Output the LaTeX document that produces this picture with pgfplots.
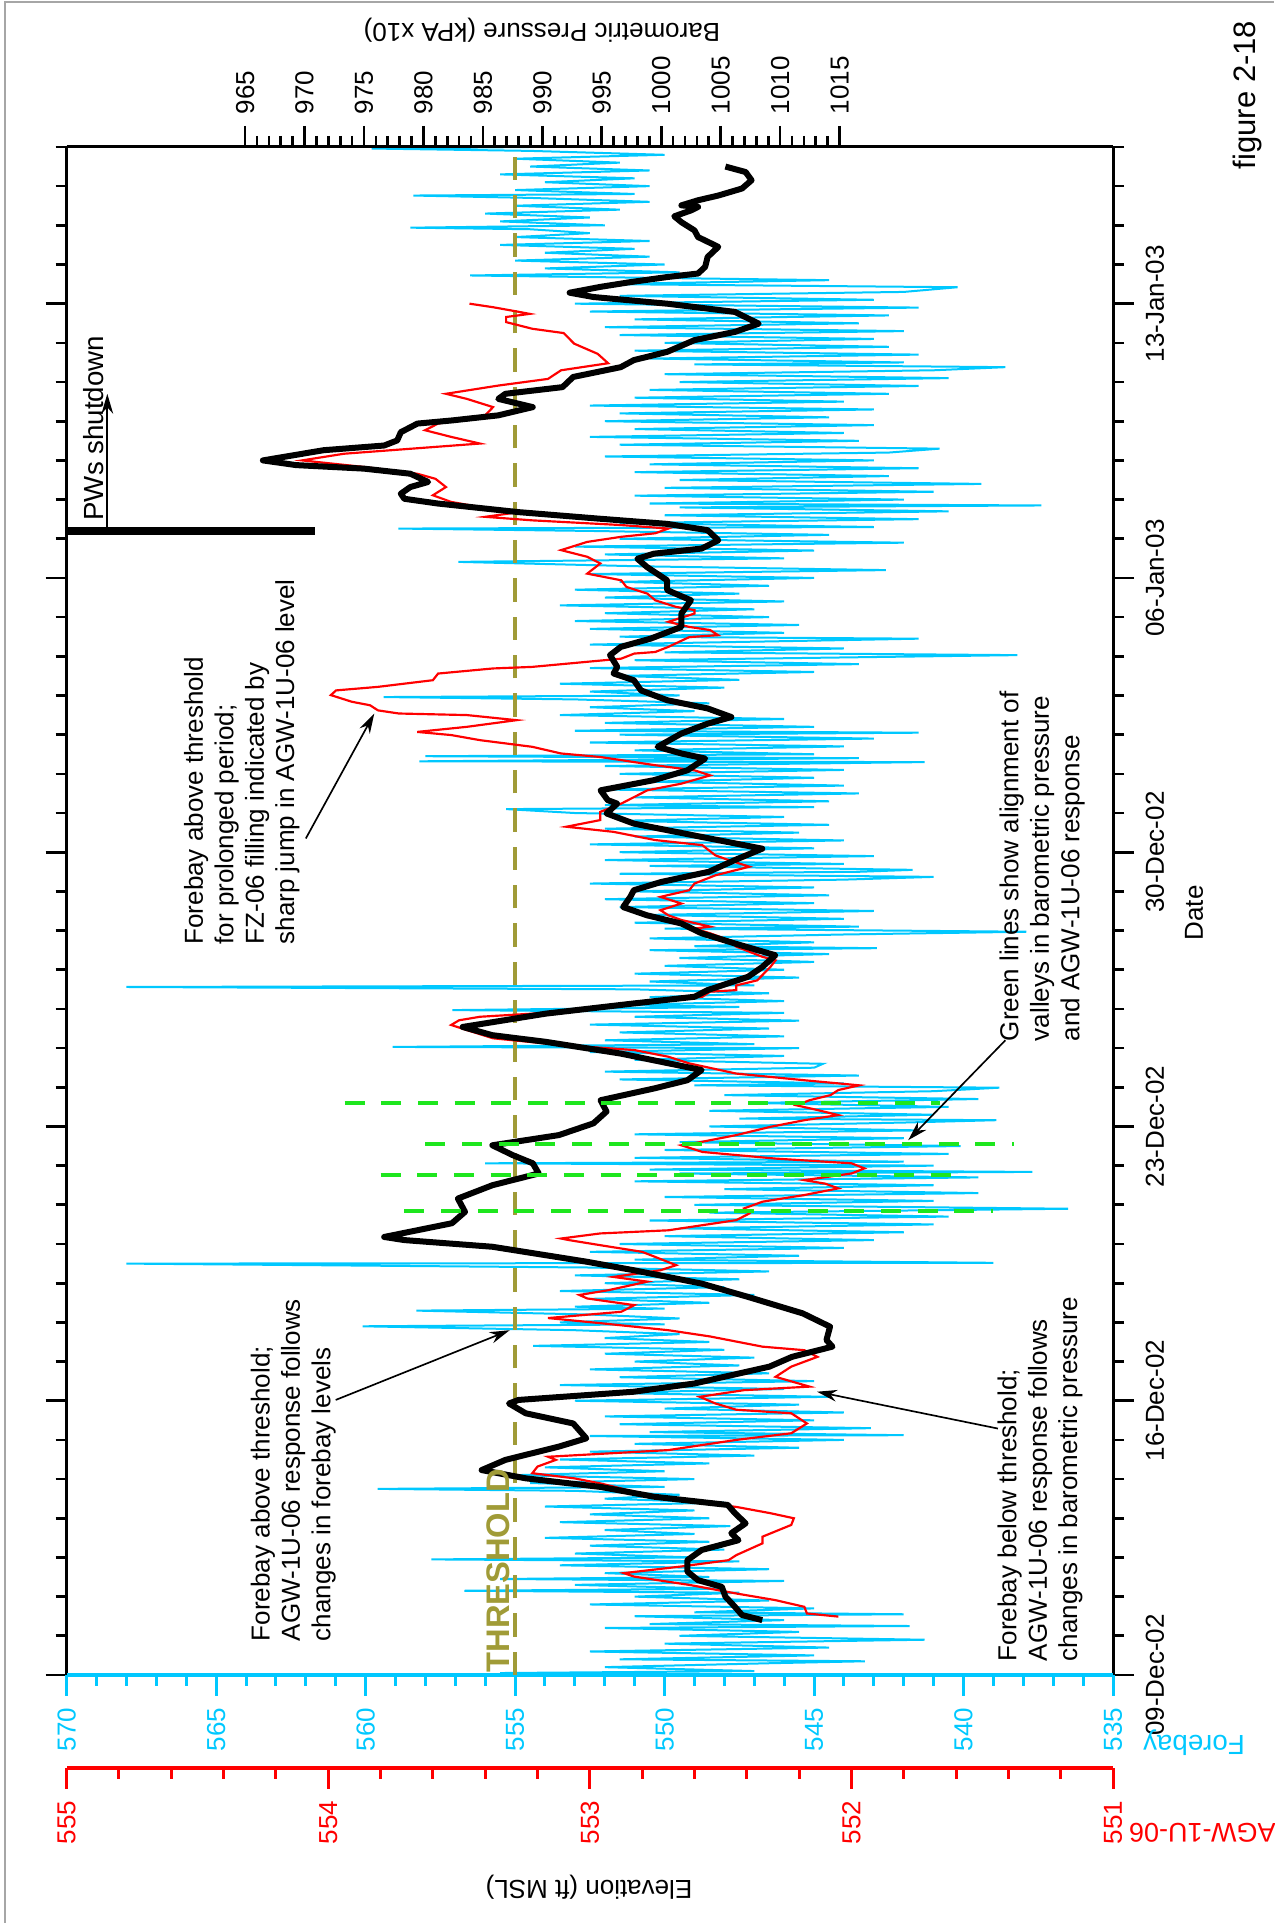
\documentclass[border=0pt]{standalone}
\usepackage{graphicx}
\usepackage{pgfplots}
\usepackage{pgfplotstable}
\pgfplotsset{compat=1.18}
\usepackage{fontspec}
\setmainfont{Liberation Sans}
\usetikzlibrary{arrows.meta}
\definecolor{fcyan}{RGB}{0,200,255}
\definecolor{fred}{RGB}{255,0,0}
\definecolor{folive}{RGB}{160,155,55}
\definecolor{fgreen}{RGB}{30,230,30}
\newcommand\annot{\fontsize{7.8}{9.12}\selectfont}

\pgfplotstableread{
d f
0.0 550.5
0.05 555.5
0.1 547.0
0.2 552.0
0.3 546.5
0.35 543.3
0.4 551.5
0.5 545.0
0.6 552.5
0.7 544.5
0.8 550.0
0.9 541.3
1.0 549.5
1.1 545.5
1.2 552.0
1.25 541.8
1.3 550.5
1.4 546.0
1.5 551.0
1.55 542.0
1.6 549.0
1.7 545.0
1.8 552.5
1.9 546.5
2.0 551.0
2.1 547.5
2.15 556.7
2.2 548.0
2.3 553.0
2.4 546.0
2.45 555.5
2.5 548.5
2.6 552.0
2.7 546.5
2.8 553.5
2.9 547.5
2.95 557.8
3.0 549.0
3.1 553.0
3.2 548.0
3.3 552.5
3.4 548.5
3.5 554.0
3.6 549.0
3.7 552.0
3.8 547.8
3.9 553.5
4.0 548.5
4.1 552.5
4.2 549.0
4.3 554.0
4.4 548.0
4.5 552.0
4.6 549.5
4.7 553.0
4.75 559.6
4.8 550.0
4.9 554.5
5.0 549.0
5.1 555.0
5.2 550.0
5.3 554.0
5.4 548.5
5.5 553.5
5.6 547.0
5.7 552.5
5.8 545.5
5.9 551.0
6.0 544.0
6.1 552.5
6.12 542.0
6.2 550.5
6.3 543.1
6.4 551.5
6.5 545.0
6.6 552.0
6.7 544.0
6.8 550.0
6.9 545.5
7.0 553.0
7.1 544.5
7.2 552.0
7.3 546.0
7.4 553.5
7.5 545.0
7.6 551.5
7.7 546.5
7.8 552.5
7.9 547.5
8.0 551.0
8.1 547.0
8.2 552.0
8.3 548.0
8.4 554.4
8.5 548.5
8.6 552.0
8.7 549.5
8.8 553.0
8.9 560.1
8.95 550.0
9.0 553.5
9.1 549.5
9.2 552.5
9.3 558.3
9.35 550.0
9.4 553.0
9.5 548.5
9.6 552.5
9.7 547.0
9.8 553.5
9.9 548.0
10.0 552.0
10.1 547.5
10.2 553.0
10.3 546.5
10.4 552.5
10.5 568.0
10.52 539.0
10.6 551.0
10.7 545.5
10.8 552.5
10.9 544.0
11.0 551.5
11.1 543.0
11.2 550.0
11.3 542.0
11.4 549.5
11.5 541.0
11.6 550.5
11.7 540.5
11.8 548.5
11.9 536.5
12.0 549.0
12.1 541.0
12.2 550.0
12.3 539.5
12.4 548.0
12.5 541.0
12.6 551.0
12.7 539.5
12.8 549.5
12.84 537.7
12.9 550.5
13.0 541.0
13.06 556.0
13.1 542.0
13.2 551.0
13.3 540.5
13.4 550.0
13.5 540.1
13.6 549.5
13.7 542.0
13.8 551.0
13.9 541.5
14.0 548.5
14.1 542.0
14.16 538.9
14.2 547.5
14.3 541.0
14.4 548.5
14.5 540.5
14.6 547.0
14.7 539.5
14.8 548.0
14.9 541.0
14.99 538.8
15.05 549.0
15.1 544.0
15.2 551.5
15.3 543.5
15.4 552.0
15.5 545.0
15.6 544.7
15.7 551.0
15.8 546.0
15.9 552.5
16.0 545.5
16.03 559.1
16.1 547.0
16.2 552.0
16.3 546.0
16.4 551.5
16.5 546.5
16.6 552.5
16.7 545.5
16.8 551.0
16.9 546.0
16.97 557.1
17.05 547.5
17.1 551.5
17.2 546.0
17.3 550.5
17.4 546.5
17.5 551.0
17.56 568.0
17.6 547.0
17.7 550.5
17.8 545.5
17.9 551.0
18.0 546.0
18.1 550.0
18.2 545.0
18.3 549.5
18.4 544.5
18.5 550.5
18.55 542.9
18.6 549.0
18.7 545.0
18.8 550.5
18.9 544.0
18.97 537.9
19.05 550.0
19.1 543.5
19.2 551.0
19.3 544.0
19.4 550.5
19.5 543.0
19.6 551.5
19.7 545.0
19.8 552.0
19.9 544.5
20.0 551.0
20.1 545.0
20.2 552.5
20.3 544.0
20.37 541.0
20.45 551.5
20.5 543.5
20.55 541.7
20.65 550.5
20.7 544.0
20.8 552.0
20.9 543.0
21.0 551.5
21.1 545.0
21.2 552.5
21.3 544.0
21.4 551.0
21.5 545.5
21.6 552.0
21.7 544.5
21.8 551.5
21.9 546.0
22.0 553.0
22.1 555.3
22.15 545.0
22.2 552.0
22.3 544.5
22.4 551.0
22.5 543.5
22.6 552.0
22.7 544.0
22.8 550.5
22.9 545.0
23.0 551.5
23.1 544.0
23.2 552.0
23.3 541.3
23.32 558.2
23.4 543.5
23.45 558.0
23.5 545.0
23.6 551.0
23.7 544.0
23.8 552.5
23.9 543.0
24.0 551.5
24.05 541.5
24.1 553.0
24.2 545.0
24.3 552.0
24.4 546.0
24.5 553.5
24.6 549.0
24.7 552.5
24.8 548.5
24.9 553.0
24.96 559.4
25.0 549.5
25.1 552.5
25.2 548.0
25.3 553.5
25.4 547.5
25.5 551.5
25.6 545.0
25.7 552.5
25.8 543.5
25.9 551.0
26.03 538.2
26.1 550.0
26.2 544.0
26.3 552.5
26.4 545.0
26.45 541.5
26.5 551.5
26.6 546.0
26.7 552.5
26.8 545.5
26.9 553.0
27.0 546.5
27.1 552.0
27.2 547.0
27.3 553.5
27.4 546.0
27.5 552.0
27.6 547.5
27.7 553.0
27.8 546.5
27.9 551.5
28.0 545.0
28.1 552.5
28.2 542.6
28.3 551.0
28.41 556.9
28.5 546.0
28.6 552.0
28.7 545.0
28.8 553.0
28.9 542.0
29.0 551.5
29.1 544.5
29.2 552.5
29.26 558.9
29.3 543.0
29.4 551.5
29.5 541.5
29.6 550.0
29.7 540.5
29.8 549.5
29.85 537.4
29.9 550.5
30.0 542.0
30.1 551.0
30.2 541.0
30.3 550.0
30.4 539.4
30.5 549.5
30.6 542.5
30.7 551.0
30.8 541.5
30.9 550.5
31.0 543.0
31.1 552.0
31.2 542.5
31.3 540.8
31.4 551.5
31.5 543.5
31.6 552.5
31.7 544.0
31.8 551.0
31.9 543.0
32.0 552.0
32.1 544.5
32.2 551.5
32.3 543.0
32.4 552.5
32.5 544.0
32.6 551.0
32.7 542.5
32.8 550.5
32.9 541.5
33.0 549.5
33.1 540.5
33.2 550.0
33.3 541.0
33.38 538.6
33.45 549.0
33.5 542.0
33.6 550.5
33.7 541.5
33.8 551.0
33.9 542.5
34.0 550.0
34.1 543.0
34.2 551.5
34.3 542.0
34.4 552.0
34.5 543.5
34.6 551.0
34.7 542.5
34.8 552.5
34.9 541.5
35.0 553.0
35.1 543.0
35.2 551.5
35.3 542.0
35.42 540.2
35.5 552.0
35.6 544.5
35.72 556.5
35.8 549.5
35.9 554.0
36.0 550.0
36.1 555.0
36.2 550.5
36.3 554.0
36.4 551.0
36.5 555.5
36.6 550.5
36.7 555.0
36.8 552.5
36.9 554.5
36.94 558.5
37.0 552.0
37.1 555.5
37.2 552.5
37.3 556.0
37.4 551.5
37.5 555.0
37.6 550.5
37.7 554.5
37.76 558.4
37.8 551.0
37.9 555.0
38.0 550.5
38.1 554.0
38.2 551.0
38.3 555.5
38.4 550.5
38.5 554.5
38.6 551.5
38.7 555.0
38.8 550.0
38.9 554.5
38.96 559.8
39.0 554.4
}\forebay

\pgfplotstableread{
d a
1.49 552.05
1.57 552.17
1.74 552.18
1.91 552.29
2.08 552.44
2.30 552.62
2.51 552.83
2.60 552.87
2.77 552.65
2.93 552.47
3.06 552.44
3.36 552.34
3.53 552.34
3.83 552.23
4.00 552.22
4.13 552.31
4.29 552.44
4.55 552.78
4.68 552.83
4.89 552.96
5.02 553.06
5.15 553.22
5.32 553.20
5.49 553.13
5.57 553.16
5.74 552.70
6.00 552.44
6.17 552.23
6.42 552.17
6.68 552.23
6.77 552.44
6.93 552.52
7.10 552.58
7.27 552.41
7.36 552.16
7.61 552.29
7.87 552.23
8.12 552.13
8.29 552.18
8.38 552.34
8.64 552.54
8.80 552.70
8.98 552.96
9.11 553.16
9.27 552.88
9.44 552.83
9.61 553.01
9.70 553.04
9.82 552.93
10.04 552.78
10.16 552.91
10.33 552.73
10.46 552.67
10.67 552.75
10.80 552.80
10.97 552.96
11.10 553.08
11.14 553.11
11.27 552.96
11.35 552.70
11.61 552.44
11.78 552.39
11.91 552.41
12.08 552.34
12.25 552.18
12.42 552.05
12.54 552.10
12.63 552.18
12.80 552.00
12.93 551.95
13.06 552.00
13.18 552.29
13.35 552.57
13.52 552.65
13.61 552.57
13.78 552.44
13.99 552.31
14.16 552.18
14.29 552.05
14.42 552.13
14.54 552.21
14.67 552.16
14.80 552.08
14.93 552.05
15.05 551.97
15.18 552.18
15.35 552.44
15.61 552.62
15.78 552.70
15.95 552.83
16.08 553.11
16.25 553.37
16.46 553.47
16.59 553.53
16.71 553.50
16.80 553.42
16.88 553.22
17.01 552.96
17.18 552.78
17.31 552.57
17.44 552.54
17.48 552.44
17.60 552.44
17.73 552.36
18.07 552.31
18.24 552.29
18.33 552.34
18.59 552.44
18.76 552.47
18.93 552.54
19.05 552.60
19.10 552.54
19.27 552.65
19.39 552.70
19.52 552.73
19.69 552.65
19.86 552.73
20.03 552.62
20.20 552.60
20.41 552.52
20.63 552.39
20.80 552.47
20.92 552.52
21.18 552.57
21.31 552.75
21.52 552.91
21.65 553.09
21.82 552.96
22.03 552.96
22.24 552.88
22.58 552.78
22.75 552.65
22.96 552.54
23.09 552.60
23.22 552.75
23.43 552.96
23.52 553.11
23.69 553.22
23.86 553.42
23.99 553.53
24.07 553.66
24.20 553.47
24.37 553.28
24.50 553.47
24.54 553.73
24.62 553.81
24.75 553.84
24.84 553.91
25.01 553.99
25.13 553.97
25.22 553.81
25.39 553.60
25.56 553.58
25.69 553.37
25.73 553.22
25.94 552.88
26.07 552.83
26.11 552.75
26.24 552.70
26.49 552.62
26.54 552.51
26.67 552.54
26.75 552.62
26.88 552.70
27.09 552.60
27.18 552.60
27.26 552.67
27.43 552.75
27.60 552.78
27.77 552.86
27.94 552.88
28.11 553.01
28.37 552.96
28.54 553.01
28.71 553.11
28.92 553.01
29.05 552.88
29.14 552.75
29.26 552.70
29.35 552.88
29.47 553.22
29.56 553.40
29.68 553.27
29.81 553.42
29.94 553.53
30.11 553.60
30.32 553.55
30.53 553.59
30.66 553.66
30.83 553.86
31.00 554.10
31.17 553.94
31.30 553.68
31.43 553.42
31.60 553.53
31.77 553.63
31.94 553.58
32.15 553.40
32.36 553.37
32.57 553.47
32.70 553.55
32.91 553.35
33.08 553.16
33.30 553.11
33.48 552.93
33.72 552.97
33.98 553.06
34.25 553.10
34.36 553.22
34.53 553.32
34.66 553.32
34.74 553.23
34.79 553.27
34.91 553.37
35.00 553.46
}\agw

\pgfplotstableread{
d p
1.40 1008.5
1.53 1006.8
1.74 1006.2
2.00 1005.4
2.25 1005.1
2.42 1003.1
2.64 1002.2
2.93 1002.2
3.19 1003.4
3.44 1006.5
3.62 1005.9
3.87 1007.1
4.13 1006.2
4.34 1005.6
4.55 999.4
4.80 994.9
5.02 988.6
5.23 984.9
5.49 986.9
5.83 991.4
6.04 993.7
6.42 992.6
6.68 988.6
6.93 987.2
7.02 988.0
7.23 997.7
7.44 1002.8
7.87 1009.1
8.12 1011.0
8.38 1014.4
8.55 1013.9
8.89 1014.2
9.23 1011.9
9.65 1007.3
9.99 1003.4
10.33 997.7
10.55 993.7
10.93 985.8
11.10 978.4
11.18 976.7
11.53 982.4
11.82 983.5
12.16 982.9
12.50 985.8
12.80 989.7
13.06 989.2
13.27 987.5
13.52 985.8
13.78 991.4
14.08 994.3
14.38 995.4
14.67 994.9
14.97 999.4
15.18 1002.2
15.44 1003.4
15.86 996.6
16.16 990.3
16.33 985.8
16.54 983.3
16.88 990.3
17.14 997.7
17.31 1002.8
17.48 1003.9
17.82 1007.3
18.07 1008.5
18.37 1009.6
18.67 1006.2
18.93 1003.4
19.18 1001.7
19.39 998.8
19.60 996.8
19.86 997.4
20.03 997.7
20.24 1000.0
20.50 1004.0
20.80 1006.2
21.09 1008.5
21.39 1003.4
21.73 997.7
21.99 995.4
22.24 996.3
22.33 995.5
22.58 994.9
22.84 999.4
23.09 1002.2
23.39 1003.7
23.52 1001.7
23.69 999.7
24.03 1001.7
24.28 1003.9
24.45 1005.9
24.67 1003.9
24.88 1000.5
25.13 998.3
25.39 997.7
25.56 996.0
25.73 996.3
26.03 995.7
26.24 996.6
26.45 999.1
26.75 1001.7
27.09 1001.7
27.43 1002.5
27.69 1000.5
27.94 1000.5
28.28 998.8
28.49 998.0
28.62 999.4
28.75 1003.4
28.96 1004.8
29.22 1003.9
29.38 1000.5
29.51 994.9
29.68 988.0
29.90 981.2
30.02 978.4
30.15 978.1
30.32 978.9
30.45 980.4
30.66 978.9
30.79 975.0
30.88 969.3
31.00 966.5
31.26 971.6
31.38 976.7
31.51 977.8
31.72 978.1
31.94 979.5
32.02 982.4
32.15 986.3
32.36 989.2
32.57 986.3
32.70 986.9
32.87 991.7
33.13 992.6
33.38 996.6
33.56 997.7
33.77 1000.5
34.07 1002.8
34.28 1006.2
34.49 1008.2
34.79 1006.2
35.00 1000.5
35.17 994.3
35.28 992.3
35.43 994.9
35.55 997.4
35.68 1000.5
35.77 1003.1
35.94 1003.7
36.19 1003.9
36.45 1004.8
36.70 1003.1
36.87 1002.8
37.08 1001.7
37.23 1001.1
37.38 1002.5
37.47 1003.1
37.51 1001.7
37.64 1003.1
37.76 1004.8
37.94 1006.8
38.15 1007.6
38.36 1007.1
38.50 1005.4
}\baro

\begin{document}
\rotatebox{90}{%
\begin{tikzpicture}[font=\annot]
\useasboundingbox (0,0) rectangle (576.9pt,382.2pt);
\pgfplotsset{
  base/.style={
    at={(74.4pt,48.3pt)}, anchor=south west,
    width=458.4pt, height=313.9pt, scale only axis,
    xmin=0, xmax=39,
    tick align=outside,
    major tick length=6.3pt, minor tick length=3.3pt,
    every tick label/.append style={font=\annot},
    /pgf/number format/assume math mode=true,
    /pgf/number format/set thousands separator={},
    scaled y ticks=false,
  }
}
% forebay axis with frame
\begin{axis}[base,
  ymin=535, ymax=570,
  axis x line*=box, axis y line*=left,
  x axis line style={black, line width=0.9pt},
  y axis line style={fcyan, line width=1.1pt},
  xtick={0,7,14,21,28,35},
  xticklabels={09-Dec-02,16-Dec-02,23-Dec-02,30-Dec-02,06-Jan-03,13-Jan-03},
  minor xtick={0,1,...,39},
  xtick style={black, line width=0.8pt},
  ytick={535,540,...,570},
  minor ytick={535,536,...,570},
  ytick style={fcyan, line width=0.9pt},
  yticklabel style={fcyan},
]
\addplot[fcyan, line width=0.6pt] table[x=d,y=f]{\forebay};
\addplot[folive, line width=1.1pt, dash pattern=on 7pt off 4.5pt] coordinates {(0,555) (39,555)};
\end{axis}
% red AGW display axis (shifted left)
\begin{axis}[
  at={(46.5pt,48.3pt)}, anchor=south west,
  width=1pt, height=313.9pt, scale only axis,
  xmin=0, xmax=1, ymin=551, ymax=555,
  axis y line*=left, axis x line=none,
  tick align=outside, major tick length=6.3pt, minor tick length=3.3pt,
  y axis line style={fred, line width=1.2pt},
  ytick={551,552,553,554,555}, minor y tick num=4,
  ytick style={fred, line width=0.9pt},
  yticklabel style={fred, font=\annot},
  /pgf/number format/assume math mode=true,
]
\end{axis}
% AGW data
\begin{axis}[base, ymin=551, ymax=555, hide axis]
\addplot[fred, line width=0.65pt] table[x=d,y=a]{\agw};
\end{axis}
% barometric pressure
\begin{axis}[base, ymin=950, ymax=1038, y dir=reverse,
  axis y line*=right, axis x line=none,
  y axis line style={black, line width=0.9pt},
  ytick={965,970,...,1015}, minor ytick={965,966,...,1015},
  ytick style={black, line width=0.8pt},
]
\addplot[black, line width=1.8pt, line join=round] table[x=d,y=p]{\baro};
\end{axis}
% annotations
\begin{axis}[base, ymin=535, ymax=570, hide axis, clip=false]
\addplot[fgreen, line width=1.2pt, dash pattern=on 6pt off 5pt] coordinates {(14.59,560.7) (14.59,540.8)};
\addplot[fgreen, line width=1.2pt, dash pattern=on 6pt off 5pt] coordinates {(13.54,558.0) (13.54,538.3)};
\addplot[fgreen, line width=1.2pt, dash pattern=on 6pt off 5pt] coordinates {(12.76,559.5) (12.76,539.9)};
\addplot[fgreen, line width=1.2pt, dash pattern=on 6pt off 5pt] coordinates {(11.84,558.7) (11.84,539.0)};
\node[anchor=base west, inner sep=0pt, text=folive, font=\fontsize{9.8}{11}\selectfont\bfseries] at (axis cs:0.05,555.2) {THRESHOLD};
\node[anchor=west, align=left, inner sep=0pt] at (axis cs:0.85,562.42) {Forebay above threshold;\\AGW-1U-06 response follows\\changes in forebay levels};
\node[anchor=west, align=left, inner sep=0pt] at (axis cs:0.34,537.44) {Forebay below threshold;\\AGW-1U-06 response follows\\changes in barometric pressure};
\node[anchor=west, align=left, inner sep=0pt] at (axis cs:16.16,537.37) {Green lines show alignment of\\valleys in barometric pressure\\and AGW-1U-06 response};
\node[anchor=west, align=left, inner sep=0pt] at (axis cs:18.63,564.14) {Forebay above threshold\\for prolonged period;\\FZ-06 filling indicated by\\sharp jump in AGW-1U-06 level};
\draw[line width=0.5pt, -{Stealth[length=6pt,width=3.5pt]}] (axis cs:7.02,561.0) -- (axis cs:8.80,555.18);
\draw[line width=0.5pt, -{Stealth[length=6pt,width=3.5pt]}] (axis cs:6.29,538.85) -- (axis cs:7.23,544.9);
\draw[line width=0.5pt, -{Stealth[length=6pt,width=3.5pt]}] (axis cs:16.20,538.6) -- (axis cs:13.65,541.85);
\draw[line width=0.5pt, -{Stealth[length=6pt,width=3.5pt]}] (axis cs:21.35,562.0) -- (axis cs:24.54,559.71);
\draw[line width=2.4pt] (axis cs:29.2,570) -- (axis cs:29.2,561.68);
\draw[line width=0.5pt, -{Stealth[length=6pt,width=3.5pt]}] (axis cs:29.2,568.64) -- (axis cs:32.7,568.64);
\node[anchor=base west, inner sep=0pt, font=\fontsize{8.3}{10}\selectfont] at (axis cs:29.45,568.78) {PWs shutdown};
\end{axis}
% outer labels
\node[rotate=90] at (10.8pt,205.5pt) {Elevation (ft MSL)};
\node[rotate=90, text=fcyan, font=\fontsize{8.3}{10}\selectfont] at (54pt,24pt) {Forebay};
\node[rotate=90, text=fred, font=\fontsize{8.1}{10}\selectfont] at (27pt,21.5pt) {AGW-1U-06};
\node at (303pt,24pt) {Date};
\node[rotate=90] at (567.9pt,219.6pt) {Barometric Pressure (kPA x10)};
\node[font=\fontsize{9.3}{11}\selectfont] at (548.4pt,8.1pt) {figure 2-18};
\draw[gray!70, line width=0.4pt] (0,380.7pt) -- (576.3pt,380.7pt) -- (576.3pt,0);
\end{tikzpicture}}
\end{document}
